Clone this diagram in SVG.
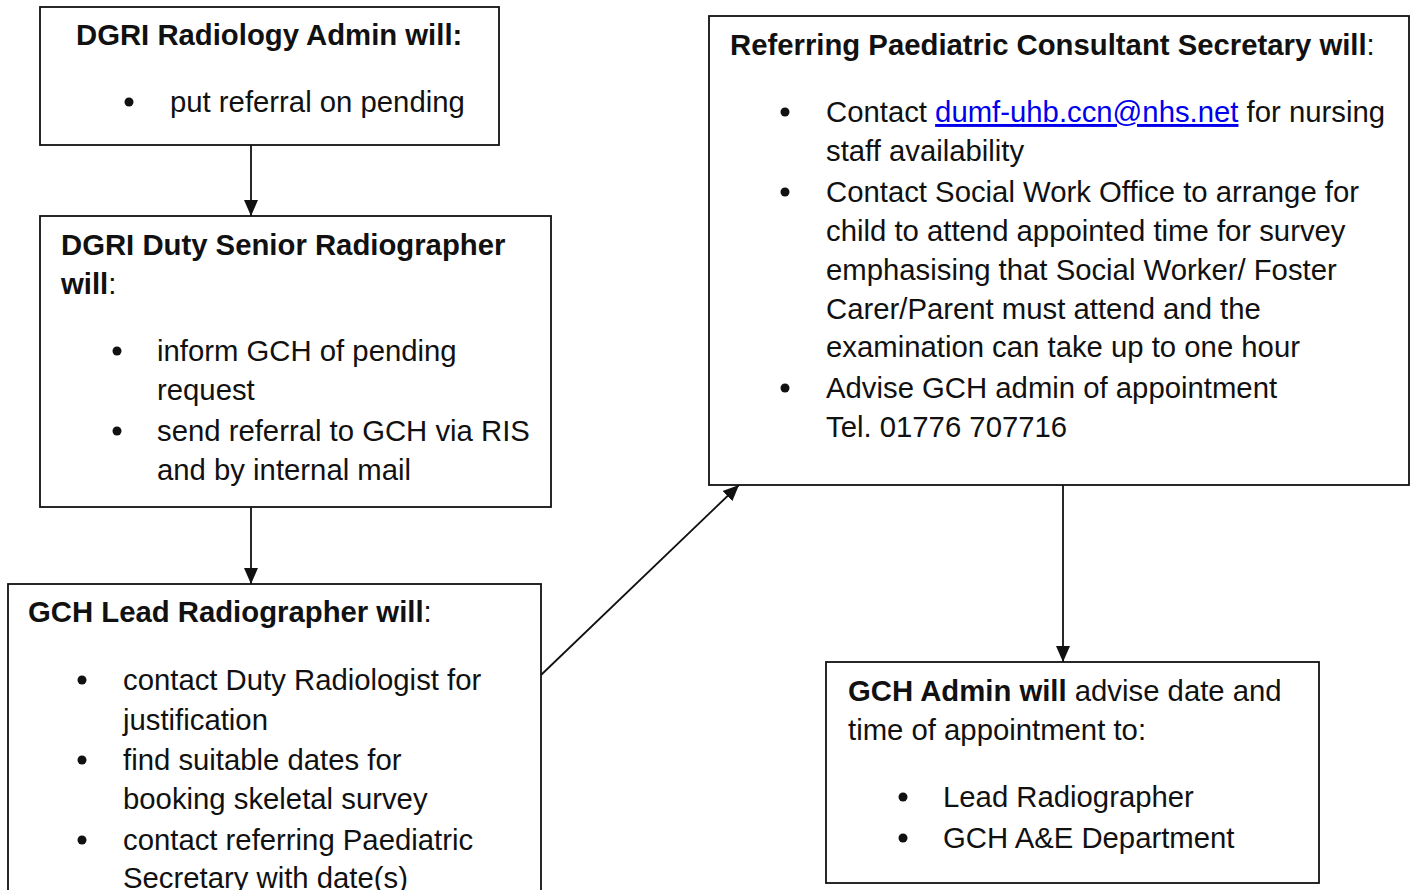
<svg xmlns="http://www.w3.org/2000/svg" width="1411" height="890" viewBox="0 0 1411 890">
<style>
.box{fill:#fff;stroke:#111;stroke-width:1.8}
text{font-family:"Liberation Sans",Arial,sans-serif;font-size:29.3px;fill:#111}
.b{font-weight:bold}
.link{fill:#0000ee;text-decoration:underline}
.conn{stroke:#111;stroke-width:1.8;fill:none}
.dot{fill:#111}
</style>
<defs>
<marker id="arr" markerUnits="userSpaceOnUse" markerWidth="16" markerHeight="18" refX="16" refY="8" orient="auto" viewBox="0 0 16 16">
<path d="M0,1 L16,8 L0,15 Z" fill="#111"/>
</marker>
</defs>
<rect width="1411" height="890" fill="#fff"/>
<g id="connectors">
<line class="conn" x1="251" y1="145" x2="251" y2="216" marker-end="url(#arr)"/>
<line class="conn" x1="251" y1="507" x2="251" y2="584" marker-end="url(#arr)"/>
<line class="conn" x1="541" y1="675" x2="739" y2="485" marker-end="url(#arr)"/>
<line class="conn" x1="1063" y1="485" x2="1063" y2="662" marker-end="url(#arr)"/>
</g>
<g id="node-admin">
<rect class="box" x="40" y="7" width="459" height="138"/>
<text class="b" x="76" y="45">DGRI Radiology Admin will:</text>
<circle class="dot" cx="129" cy="102" r="4.5"/>
<text x="170" y="112">put referral on pending</text>
</g>
<g id="node-duty">
<rect class="box" x="40" y="216" width="511" height="291"/>
<text class="b" x="61" y="255">DGRI Duty Senior Radiographer</text>
<text x="61" y="294"><tspan class="b">will</tspan>:</text>
<circle class="dot" cx="117" cy="351" r="4.5"/>
<text x="157" y="361">inform GCH of pending</text>
<text x="157" y="400">request</text>
<circle class="dot" cx="117" cy="431" r="4.5"/>
<text x="157" y="441">send referral to GCH via RIS</text>
<text x="157" y="480">and by internal mail</text>
</g>
<g id="node-lead">
<rect class="box" x="8" y="584" width="533" height="320"/>
<text x="28" y="622"><tspan class="b">GCH Lead Radiographer will</tspan>:</text>
<circle class="dot" cx="82" cy="680" r="4.5"/>
<text x="123" y="690">contact Duty Radiologist for</text>
<text x="123" y="730">justification</text>
<circle class="dot" cx="82" cy="760" r="4.5"/>
<text x="123" y="770">find suitable dates for</text>
<text x="123" y="809">booking skeletal survey</text>
<circle class="dot" cx="82" cy="840" r="4.5"/>
<text x="123" y="850">contact referring Paediatric</text>
<text x="123" y="888">Secretary with date(s)</text>
</g>
<g id="node-secretary">
<rect class="box" x="709" y="16" width="700" height="469"/>
<text x="730" y="55"><tspan class="b">Referring Paediatric Consultant Secretary will</tspan>:</text>
<circle class="dot" cx="785" cy="112" r="4.5"/>
<text x="826" y="122">Contact <tspan class="link">dumf-uhb.ccn@nhs.net</tspan> for nursing</text>
<text x="826" y="161">staff availability</text>
<circle class="dot" cx="785" cy="192" r="4.5"/>
<text x="826" y="202">Contact Social Work Office to arrange for</text>
<text x="826" y="241">child to attend appointed time for survey</text>
<text x="826" y="280">emphasising that Social Worker/ Foster</text>
<text x="826" y="319">Carer/Parent must attend and the</text>
<text x="826" y="357">examination can take up to one hour</text>
<circle class="dot" cx="785" cy="388" r="4.5"/>
<text x="826" y="398">Advise GCH admin of appointment</text>
<text x="826" y="437">Tel. 01776 707716</text>
</g>
<g id="node-gchadmin">
<rect class="box" x="826" y="662" width="493" height="221"/>
<text x="848" y="701"><tspan class="b">GCH Admin will</tspan> advise date and</text>
<text x="848" y="740">time of appointment to:</text>
<circle class="dot" cx="903" cy="797" r="4.5"/>
<text x="943" y="807">Lead Radiographer</text>
<circle class="dot" cx="903" cy="838" r="4.5"/>
<text x="943" y="848">GCH A&amp;E Department</text>
</g>
</svg>
